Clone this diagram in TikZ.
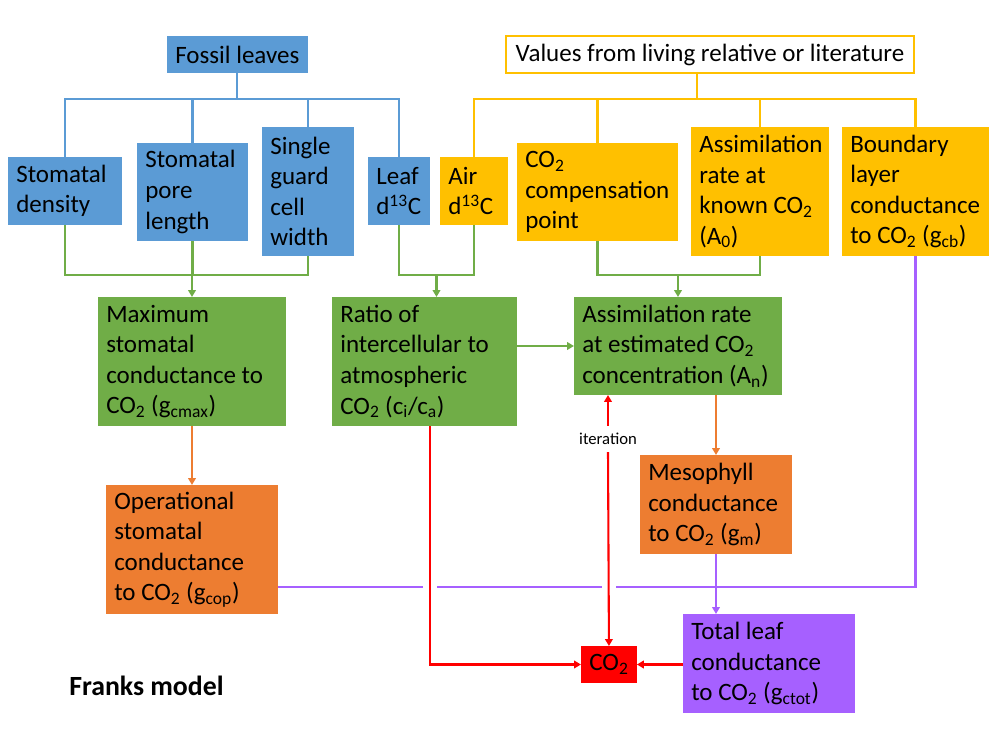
\documentclass[tikz,border=0pt]{standalone}
\usepackage{fontspec}
\setmainfont{Carlito}
\usepackage{xcolor}
\usetikzlibrary{arrows.meta,calc,positioning}
\definecolor{leafblue}{HTML}{5B9BD5}
\definecolor{gold}{HTML}{FFC000}
\definecolor{grass}{HTML}{70AD47}
\definecolor{rust}{HTML}{ED7D31}
\definecolor{lilac}{HTML}{A660FF}
\newcommand\pxu{0.72pt}
\tikzset{
	flow diagram/.style={
		x=\pxu, y=-\pxu,
		font=\fontsize{18}{22}\selectfont,
		wire/.style={line width=1.5pt},
		ar/.style={-{Triangle[length=5pt,width=5.5pt]}},
		},
	box pad/.store in=\boxpad,
	box pad=6pt,
	box/.code 2 args={
		\pgfmathsetlengthmacro{\boxw}{#1*\pxu}
		\pgfmathsetlengthmacro{\boxh}{#2*\pxu}
		\pgfmathsetlengthmacro{\boxtw}{\boxw-2*\boxpad}
		\pgfkeysalso{anchor=north west,minimum width=\boxw,minimum height=\boxh,
			text width=\boxtw,inner xsep=\boxpad,inner ysep=0pt,outer sep=0pt,
			align=flush left}
	},
	centred/.style={text width=, align=center},
	fossil/.style={fill=leafblue},
	lit/.style={fill=gold},
	derived/.style={fill=grass},
	cond/.style={fill=rust},
	total/.style={fill=lilac}
}

\begin{document}
\begin{tikzpicture}[flow diagram]
  \useasboundingbox (0,0) rectangle (1000,750);
  % sources
  \node[box={140}{37}, centred, fossil] (leaves) at (167,36) {Fossil leaves};
  \node[box={408}{37}, centred, draw=gold, wire, fill=white] (values) at (506,36) {Values from living relative or literature};
  \node[box={114}{68}, fossil] (density) at (8,157) {Stomatal\\density};
  \node[box={111}{98}, fossil] (pore) at (137,143) {Stomatal\\pore\\length};
  \node[box={92}{129}, fossil] (guard) at (262,127) {Single\\guard\\cell\\width};
  \node[box={62}{68}, fossil] (leafd) at (368,157) {Leaf\\d\textsuperscript{13}C};
  \node[box={68}{68}, lit] (aird) at (440,157) {Air\\d\textsuperscript{13}C};
  \node[box={161}{98}, lit] (comp) at (517,143) {CO\textsubscript{2}\\compensation\\point};
  \node[box={138}{129}, lit] (aknown) at (691,127) {Assimilation\\rate at\\known CO\textsubscript{2}\\(A\textsubscript{0})};
  \node[box={147}{129}, lit] (gcb) at (842,127) {Boundary\\layer\\conductance\\to CO\textsubscript{2} (g\textsubscript{cb})};
  % derived
  \node[box={188}{129}, derived] (gcmax) at (98,297) {Maximum\\stomatal\\conductance to\\CO\textsubscript{2} (g\textsubscript{cmax})};
  \node[box={185}{129}, derived] (ratio) at (332,297) {Ratio of\\intercellular to\\atmospheric\\CO\textsubscript{2} (c\textsubscript{i}/c\textsubscript{a})};
  \node[box={208}{98}, derived] (an) at (574,297) {Assimilation rate\\at estimated CO\textsubscript{2}\\concentration (A\textsubscript{n})};
  \node[box={172}{129}, cond] (gcop) at (106,485) {Operational\\stomatal\\conductance\\to CO\textsubscript{2} (g\textsubscript{cop})};
  \node[box={152}{99}, cond] (gm) at (640,455) {Mesophyll\\conductance\\to CO\textsubscript{2} (g\textsubscript{m})};
  \node[box={172}{99}, total] (gctot) at (683,614) {Total leaf\\conductance\\to CO\textsubscript{2} (g\textsubscript{ctot})};
  \node[box={54}{37}, centred, fill=red] (co2) at (581,646) {CO\textsubscript{2}};
  \node[font=\fontsize{12}{14}\selectfont, inner ysep=5pt] (iter) at (608,439) {iteration};
  \node[font=\fontsize{20}{24}\selectfont\bfseries, anchor=west, inner sep=0pt] (title) at (69,686) {Franks model};
  % buses
  \coordinate (bluebus) at (0,99);
  \coordinate (goldbus) at (0,99);
  \coordinate (greenbus) at (0,275);
  \coordinate (purplebus) at (0,587);
  \coordinate (valout) at ([xshift=-9.4pt]values.south);
  \coordinate (ratioin) at ($(leafd.south)!.5!(aird.south)$);
  \coordinate (ratioout) at ([xshift=4pt]ratio.south);
  \draw[wire, leafblue] (leaves.south) -- (leaves.south |- bluebus);
  \draw[wire, leafblue] (density.north) |- (leafd.north |- bluebus) -- (leafd.north);
  \draw[wire, leafblue] (pore.north) -- (pore.north |- bluebus);
  \draw[wire, leafblue] (guard.north) -- (guard.north |- bluebus);
  \draw[wire, gold] (valout) -- (valout |- goldbus);
  \draw[wire, gold] (aird.north) |- (gcb.north |- goldbus) -- (gcb.north);
  \draw[wire, gold] (comp.north) -- (comp.north |- goldbus);
  \draw[wire, gold] (aknown.north) -- (aknown.north |- goldbus);
  \draw[wire, grass] (density.south) |- (guard.south |- greenbus) -- (guard.south);
  \draw[wire, grass] (pore.south) -- (pore.south |- greenbus);
  \draw[wire, grass, ar] (gcmax.north |- greenbus) -- (gcmax.north);
  \draw[wire, grass] (leafd.south) |- (aird.south |- greenbus) -- (aird.south);
  \draw[wire, grass, ar] (ratioin |- greenbus) -- (ratioin |- ratio.north);
  \draw[wire, grass] (comp.south) |- (aknown.south |- greenbus) -- (aknown.south);
  \draw[wire, grass, ar] (an.north |- greenbus) -- (an.north);
  \draw[wire, grass, ar] (ratio.east |- an.west) -- (an.west);
  \draw[wire, rust, ar] (gcmax.south) -- (gcop.north);
  \draw[wire, rust, ar] (gm.north |- an.south) -- (gm.north);
  % conductances with line jumps
  \coordinate (jumpA) at (ratioout |- purplebus);
  \coordinate (jumpB) at (co2.north |- purplebus);
  \draw[wire, lilac] (gcb.south) |- ([xshift=5pt]jumpB);
  \draw[wire, lilac] ([xshift=-5pt]jumpB) -- ([xshift=5pt]jumpA);
  \draw[wire, lilac] ([xshift=-5pt]jumpA) -- (gcop.east |- purplebus);
  \draw[wire, lilac, ar] (gm.south) -- (gm.south |- gctot.north);
  \draw[wire, red, ar] (ratioout) |- (co2.west);
  \draw[wire, red, ar] (gctot.west |- co2.east) -- (co2.east);
  \draw[wire, red, ar] (iter.north) -- (iter.north |- an.south);
  \draw[wire, red, ar] (iter.south) -- (co2.north);
\end{tikzpicture}
\end{document}
